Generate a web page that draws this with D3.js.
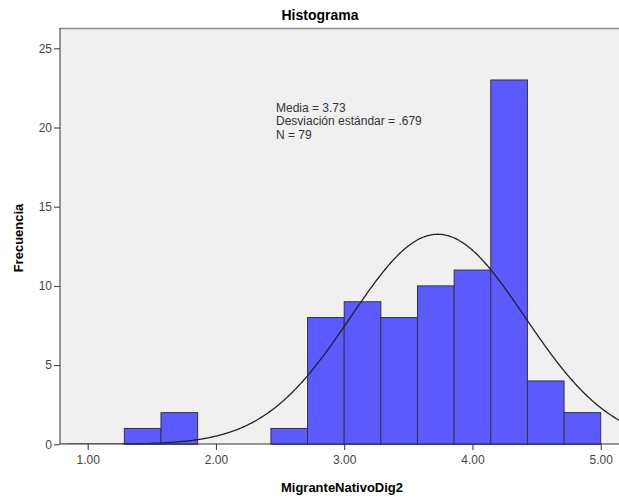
<!DOCTYPE html>
<html><head><meta charset="utf-8">
<script src="https://cdn.jsdelivr.net/npm/d3@7"></script>
<style>body{margin:0;background:#fff}text{font-family:Arial,"Liberation Sans",sans-serif}</style>
</head><body>
<svg id="c" width="619" height="496"></svg>
<script>
const binEdges = [1.2857, 1.5714, 1.8571, 2.1429, 2.4286, 2.7143, 3.0, 3.2857, 3.5714, 3.8571, 4.1429, 4.4286, 4.7143, 5.0];
const counts = [1, 2, 0, 0, 1, 8, 9, 8, 10, 11, 23, 4, 2];
const xTicks = [1, 2, 3, 4, 5];
const yTicks = [0, 5, 10, 15, 20, 25];
const mean = 3.73, sd = 0.679, N = 79;
const statsLines = ["Media = 3.73", "Desviación estándar = .679", "N = 79"];

const svg = d3.select("#c");
const L = 60, R = 619, T = 28, B = 444;
const x = d3.scaleLinear().domain([1, 5]).range([87.7, 600.7]);
const y = d3.scaleLinear().domain([0, 25]).range([444.3, 48.3]);

svg.append("rect").attr("x", L).attr("y", T).attr("width", R - L).attr("height", B - T).attr("fill", "#f0f0f0");
svg.append("line").attr("x1", L).attr("x2", R).attr("y1", T + 0.5).attr("y2", T + 0.5).attr("stroke", "#8c8c8c").attr("stroke-width", 1.5);
svg.append("defs").append("clipPath").attr("id", "clip").append("rect").attr("x", L).attr("y", T).attr("width", R - L).attr("height", B - T);

const bins = counts.map((c, i) => ({x0: binEdges[i], x1: binEdges[i + 1], c}));
svg.append("g").selectAll("rect").data(bins.filter(d => d.c > 0)).join("rect")
  .attr("x", d => x(d.x0)).attr("width", d => x(d.x1) - x(d.x0))
  .attr("y", d => y(d.c)).attr("height", d => y(0) - y(d.c))
  .attr("fill", "#5a5aff").attr("stroke", "#333344").attr("stroke-width", 1);

const bw = binEdges[1] - binEdges[0];
const pts = d3.range(0.7, 5.3, 0.01).map(v => [v, N * bw * Math.exp(-0.5 * ((v - mean) / sd) ** 2) / (sd * Math.sqrt(2 * Math.PI))]);
svg.append("path").datum(pts).attr("clip-path", "url(#clip)")
  .attr("d", d3.line().x(d => x(d[0])).y(d => y(d[1])).curve(d3.curveBasis))
  .attr("fill", "none").attr("stroke", "#222").attr("stroke-width", 1.3);

const ya = svg.append("g").attr("transform", `translate(${L},0)`)
  .call(d3.axisLeft(y).tickValues(yTicks).tickSize(6).tickPadding(2).tickFormat(d3.format("d")));
ya.select(".domain").attr("d", `M0,${T}V${B}`).attr("stroke", "#333");
ya.selectAll("line").attr("stroke", "#333");
ya.selectAll("text").attr("font-size", 12).attr("fill", "#444").style("font-family", "Arial,'Liberation Sans',sans-serif");

const xa = svg.append("g").attr("transform", `translate(0,${B})`)
  .call(d3.axisBottom(x).tickValues(xTicks).tickSize(6).tickPadding(5).tickFormat(d3.format(".2f")));
xa.select(".domain").attr("d", `M${L},0H${R}`).attr("stroke", "#333");
xa.selectAll("line").attr("stroke", "#333");
xa.selectAll("text").attr("font-size", 12).attr("fill", "#444").style("font-family", "Arial,'Liberation Sans',sans-serif");

svg.append("text").attr("x", 320).attr("y", 20).attr("text-anchor", "middle")
  .attr("font-size", 14).attr("font-weight", "bold").attr("fill", "#000").text("Histograma");
svg.append("text").attr("x", 342).attr("y", 492).attr("text-anchor", "middle")
  .attr("font-size", 13).attr("font-weight", "bold").attr("fill", "#000").text("MigranteNativoDig2");
svg.append("text").attr("transform", "translate(23,238) rotate(-90)").attr("text-anchor", "middle")
  .attr("font-size", 13).attr("font-weight", "bold").attr("fill", "#000").text("Frecuencia");

svg.append("g").selectAll("text").data(statsLines).join("text")
  .attr("x", 276).attr("y", (d, i) => 112 + i * 13.3)
  .attr("font-size", 12).attr("fill", "#333").text(d => d);
</script>
</body></html>
